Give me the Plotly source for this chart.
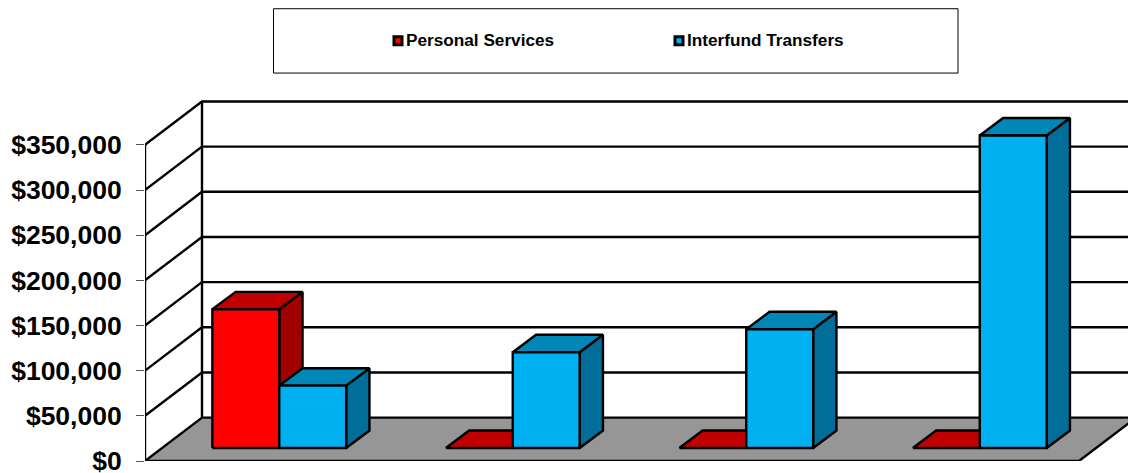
import plotly.graph_objects as go

# --- data ---
series_names = ["Personal Services", "Interfund Transfers"]
personal_services = [153500, 0, 0, 0]
interfund_transfers = [69000, 106000, 131500, 346000]
tick_values = [0, 50000, 100000, 150000, 200000, 250000, 300000, 350000]
tick_labels = ["$0", "$50,000", "$100,000", "$150,000", "$200,000", "$250,000", "$300,000", "$350,000"]

# --- styles / geometry ---
W, H = 1128, 473
LEFT, BOTTOM, TOP = 145, 461.5, 90.5
PX_PER_CAT = 233.5
PX_PER_VAL = 317 / 350000
WALL_DX = 57 / PX_PER_CAT          # full chart depth, x part (category units)
WALL_DY = 43.5 / PX_PER_VAL        # full chart depth, y part (value units)
BAR_W = 66.9 / PX_PER_CAT
BAR_DX = 23.3 / PX_PER_CAT
BAR_DY = 17.5 / PX_PER_VAL
BAR_FRONT = 0.30                   # depth fraction of bar front faces
BAR_SHIFT = 0.4 / PX_PER_CAT
N = len(personal_services)
TOPVAL = 350000 + WALL_DY
LW = 2.4
COLORS = {
    0: dict(front="#FF0000", top="#C00000", side="#A00000"),
    1: dict(front="#00B0F0", top="#0087B8", side="#006E98"),
}

fig = go.Figure()


def poly(xs, ys, fill=None, width=LW):
    kw = dict(fill="toself", fillcolor=fill) if fill else {}
    if fill:
        xs, ys = list(xs) + [xs[0]], list(ys) + [ys[0]]
    fig.add_trace(go.Scatter(x=list(xs), y=list(ys), mode="lines",
                             line=dict(color="black", width=width),
                             cliponaxis=False, showlegend=False, hoverinfo="skip", **kw))


# floor
poly([0, N, N + WALL_DX, WALL_DX], [0, 0, WALL_DY, WALL_DY], fill="#969696")
# left wall edges and back wall
poly([0, 0], [0, 350000])
poly([WALL_DX, WALL_DX], [WALL_DY, TOPVAL])
xmax = N + WALL_DX
for v in tick_values[1:]:
    poly([0, WALL_DX, xmax], [v, v + WALL_DY, v + WALL_DY])

# bars
off_x = BAR_FRONT * WALL_DX + BAR_SHIFT
off_y = BAR_FRONT * WALL_DY
gap = (1 - 2 * BAR_W) / 2
for i in range(N):
    for s, vals in enumerate([personal_services, interfund_transfers]):
        c = COLORS[s]
        x0 = i + off_x + gap + s * BAR_W
        x1 = x0 + BAR_W
        y0 = off_y
        y1 = off_y + vals[i]
        poly([x1, x1 + BAR_DX, x1 + BAR_DX, x1], [y0, y0 + BAR_DY, y1 + BAR_DY, y1], fill=c["side"])
        poly([x0, x1, x1 + BAR_DX, x0 + BAR_DX], [y1, y1, y1 + BAR_DY, y1 + BAR_DY], fill=c["top"])
        if vals[i] > 0:
            poly([x0, x1, x1, x0], [y0, y0, y1, y1], fill=c["front"])


def px(x):
    return (x - LEFT) / (W - LEFT)


def py(y):
    return (BOTTOM - y) / (BOTTOM - TOP)


# legend frame, swatches, labels
shapes = [dict(type="rect", xref="paper", yref="paper", x0=px(273.5), x1=px(958), y0=py(72.5), y1=py(8),
               line=dict(color="black", width=1), fillcolor="white")]
annotations = []
for name, color, sx, tx in zip(series_names, ["#FF0000", "#00B0F0"], [394, 675], [404, 685]):
    shapes.append(dict(type="rect", xref="paper", yref="paper", x0=px(sx), x1=px(sx + 8), y0=py(44), y1=py(36),
                       line=dict(color="black", width=3), fillcolor=color))
    annotations.append(dict(text=name, xref="paper", yref="paper", x=px(tx), y=py(39.5), xanchor="left",
                            yanchor="middle", showarrow=False,
                            font=dict(family="Liberation Sans", size=17.2, color="black", weight="bold")))

fig.update_layout(
    width=W, height=H, autosize=False,
    margin=dict(l=LEFT, r=0, t=TOP, b=H - BOTTOM, pad=0, autoexpand=False),
    paper_bgcolor="white", plot_bgcolor="white",
    showlegend=False, shapes=shapes, annotations=annotations,
    xaxis=dict(range=[0, (W - LEFT) / PX_PER_CAT], visible=False, automargin=False),
    yaxis=dict(range=[0, (BOTTOM - TOP) / PX_PER_VAL], tickmode="array", tickvals=tick_values,
               ticktext=tick_labels, ticks="outside", ticklen=8, tickcolor="#555555", tickwidth=1,
               ticklabelstandoff=9, ticklabeloverflow="allow", automargin=False,
               showgrid=False, zeroline=False, showline=False,
               tickfont=dict(family="Liberation Sans", size=26.5, color="black", weight="bold")),
)
fig.write_html("out.html", config=dict(displayModeBar=False),
               post_script="document.body.style.margin='0';document.body.style.overflow='hidden';")
